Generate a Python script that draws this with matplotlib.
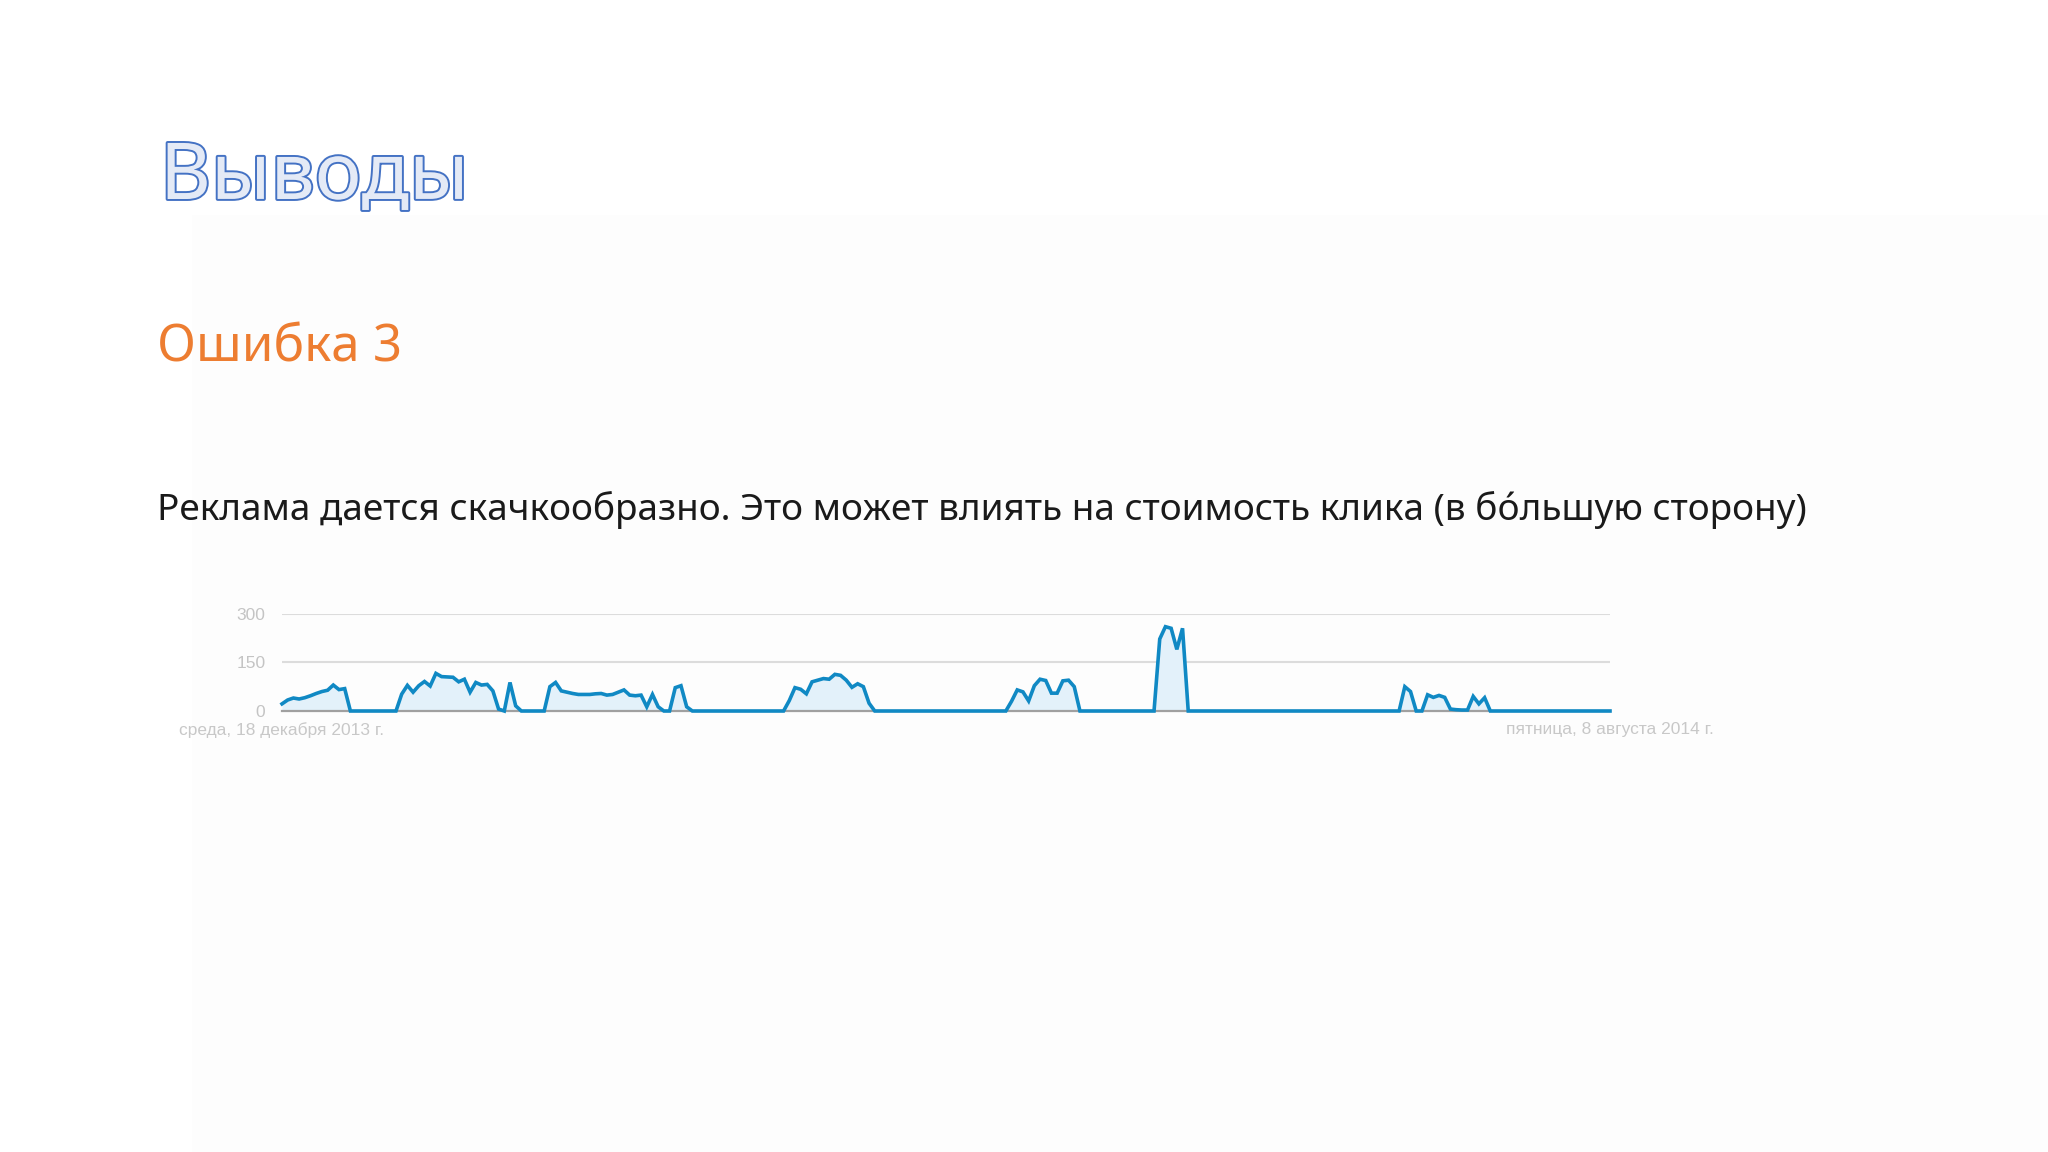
import matplotlib
matplotlib.use("Agg")
import matplotlib.pyplot as plt
import matplotlib.patheffects as pe
import pandas as pd

# --- Данные (клики по дням, 18.12.2013 - 08.08.2014) ---
days = pd.date_range("2013-12-18", "2014-08-08", freq="D")

clicks = (
    [22, 34, 40, 37, 41, 47, 54, 60, 64, 80, 66, 69]
    + [0] * 9
    + [52, 79, 58, 78, 91, 77, 116, 106, 105, 104, 90, 98, 58, 88, 80, 82, 62, 6, 0, 88, 16]
    + [0] * 5
    + [75, 88, 62, 58, 54, 51, 51, 51, 53, 54, 49, 51, 58, 65, 49, 47, 49, 13, 51, 13]
    + [0] * 2
    + [72, 78, 13]
    + [0] * 17
    + [32, 72, 67, 53, 90, 95, 100, 98, 113, 110, 95, 73, 84, 75, 24]
    + [0] * 24
    + [30, 65, 59, 31, 78, 98, 94, 55, 55, 93, 95, 75]
    + [0] * 14
    + [222, 260, 255, 190, 255]
    + [0] * 38
    + [75, 60]
    + [0] * 2
    + [50, 42, 48, 42, 6, 4, 3, 3, 45, 22, 41]
    + [0] * 22
)

y_ticks = [0, 150, 300]
x_labels = ["среда, 18 декабря 2013 г.", "пятница, 8 августа 2014 г."]

title = "Выводы"
subtitle = "Ошибка 3"
body = "Реклама дается скачкообразно. Это может влиять на стоимость клика (в бóльшую сторону)"

W, H = 2048, 1152
LINE = "#1089c4"
FILL = "#e3f1fa"


def fx(x):
    return x / W


def fy(y):
    return 1 - y / H


fig = plt.figure(figsize=(W / 100, H / 100), dpi=100)
fig.patch.set_facecolor("white")

# едва заметная подложка слайда
fig.patches.append(plt.Rectangle((fx(192), 0), 1, fy(215), transform=fig.transFigure,
                                 facecolor="#fdfdfd", edgecolor="none", zorder=-5))

# --- Тексты слайда ---
fig.text(fx(160), fy(199), title, fontsize=56.5, family="Noto Sans", color="#e4eaf6",
         va="baseline", path_effects=[pe.Stroke(linewidth=2.8, foreground="#4472c4"), pe.Normal()])
fig.text(fx(157), fy(362), subtitle, fontsize=36.8, family="Noto Sans", color="#ed7d31", va="baseline")
fig.text(fx(157), fy(520), body, fontsize=26.6, family="Noto Sans", color="#1a1a1a", va="baseline")

# --- График ---
ax = fig.add_axes([fx(282), fy(711), (1610 - 282) / W, (711 - 613.7) / H], zorder=2)
ax.set_facecolor("none")
ax.fill_between(days, clicks, 0, color=FILL, lw=0, zorder=1)
ax.axhline(0, color="#a0a0a0", lw=1.6, zorder=2, clip_on=False)
ax.plot(days, clicks, color=LINE, lw=2.6, zorder=3, clip_on=False, solid_joinstyle="miter")

ax.set_xlim(days[0], days[-1])
ax.set_ylim(0, 300)
ax.set_yticks(y_ticks)
ax.set_yticklabels([str(t) for t in y_ticks])
ax.grid(axis="y", color="#dcdcdc", lw=1.5, zorder=0)
ax.set_axisbelow(True)
ax.set_xticks([days[0], days[-1]])
ax.set_xticklabels(x_labels)
ax.tick_params(axis="y", length=0, pad=12, labelsize=12.5, labelcolor="#c4c4c4")
ax.tick_params(axis="x", length=0, pad=8, labelsize=12.5, labelcolor="#c8c8c8")
for lab in ax.get_xticklabels() + ax.get_yticklabels():
    lab.set_family("Liberation Sans")
for s in ax.spines.values():
    s.set_visible(False)

fig.savefig("out.png", dpi=100)
